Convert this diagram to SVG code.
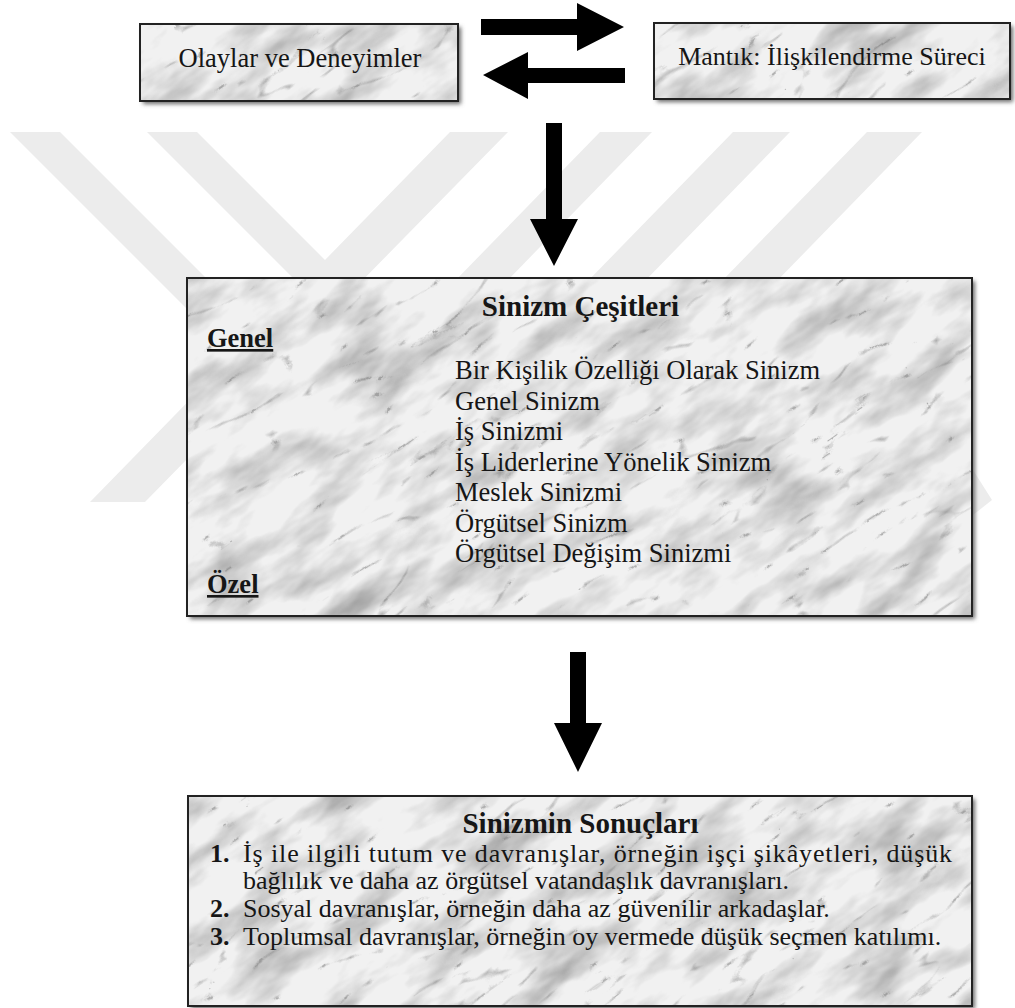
<svg xmlns="http://www.w3.org/2000/svg" width="1015" height="1008" viewBox="0 0 1015 1008">
<defs>
<style>
.t{font-family:"Liberation Serif","Times New Roman",serif;fill:#161616}
.b{font-weight:bold}
.u{text-decoration:underline}
.frame{fill:none;stroke:#222;stroke-width:2}
.shadow{fill:#6a6a6a;filter:url(#shadowF)}
.wm{fill:#ececec}
.arrow{fill:#000}
</style>
<filter id="shadowF" x="-10%" y="-10%" width="120%" height="130%">
<feGaussianBlur stdDeviation="2.2"/>
</filter>
<filter id="marble" x="0" y="0" width="1" height="1" color-interpolation-filters="sRGB">
<feFlood flood-color="#f1f1f1" result="base"/>
<feTurbulence type="fractalNoise" baseFrequency="0.012 0.03" numOctaves="4" seed="7" result="blot"/>
<feColorMatrix in="blot" type="matrix" values="0 0 0 0 0.62 0 0 0 0 0.62 0 0 0 0 0.62 1.9 0 0 0 -0.82" result="blotA"/>
<feTurbulence type="turbulence" baseFrequency="0.009 0.026" numOctaves="3" seed="11" result="vein"/>
<feColorMatrix in="vein" type="matrix" values="0 0 0 0 0.45 0 0 0 0 0.45 0 0 0 0 0.45 -5 0 0 0 0.5" result="veinA"/>
<feMerge><feMergeNode in="base"/><feMergeNode in="blotA"/><feMergeNode in="veinA"/></feMerge>
</filter>
<clipPath id="c1"><rect x="140" y="24" width="318" height="77"/></clipPath>
<clipPath id="c2"><rect x="654" y="23" width="356" height="76"/></clipPath>
<clipPath id="c3"><rect x="187" y="278" width="785" height="338"/></clipPath>
<clipPath id="c4"><rect x="188" y="796" width="784" height="210"/></clipPath>
</defs>
<rect width="1015" height="1008" fill="#ffffff"/>
<g id="watermark">
<polygon class="wm" points="10,132 60,132 275,347 225,347"/>
<polygon class="wm" points="147,132 197,132 325,260 450,132 508,132 145,502 90,502 301,286"/>
<polygon class="wm" points="600,132 652,132 393,398 341,398"/>
<polygon class="wm" points="733,132 790,132 531,398 474,398"/>
<polygon class="wm" points="867,132 922,132 663,398 608,398"/>
<polygon class="wm" points="973,470 992,500 973,515"/>
</g>
<g id="connectors">
<polygon class="arrow" points="481,19 577,19 577,3 624,27 577,51 577,35 481,35"/>
<polygon class="arrow" points="625,68 528,68 528,52 483,75 528,99 528,83 625,83"/>
<polygon class="arrow" points="546,123 562,123 562,219 578,219 554,266 530,219 546,219"/>
<polygon class="arrow" points="570,652 586,652 586,723 602,723 578,772 554,723 570,723"/>
</g>
<g id="node-olaylar">
<rect class="shadow" x="143" y="27" width="318" height="77"/>
<g clip-path="url(#c1)"><rect x="-101" y="-337" width="800" height="800" filter="url(#marble)" transform="rotate(-35 299 62.5)"/></g>
<rect class="frame" x="140" y="24" width="318" height="77"/>
<text class="t" x="300" y="67" font-size="26.5" text-anchor="middle">Olaylar ve Deneyimler</text>
</g>
<g id="node-mantik">
<rect class="shadow" x="657" y="26" width="356" height="76"/>
<g clip-path="url(#c2)"><rect x="432" y="-339" width="800" height="800" filter="url(#marble)" transform="rotate(-35 832 61)"/></g>
<rect class="frame" x="654" y="23" width="356" height="76"/>
<text class="t" x="832" y="65" font-size="26" text-anchor="middle">Mantık: İlişkilendirme Süreci</text>
</g>
<g id="node-cesitler">
<rect class="shadow" x="190" y="281" width="785" height="338"/>
<g clip-path="url(#c3)"><rect x="79.5" y="-53" width="1000" height="1000" filter="url(#marble)" transform="rotate(-35 579.5 447)"/></g>
<rect class="frame" x="187" y="278" width="785" height="338"/>
<text class="t b" x="580.5" y="316" font-size="29" text-anchor="middle">Sinizm Çeşitleri</text>
<text class="t b u" x="207" y="347" font-size="26.5">Genel</text>
<text class="t" font-size="26.5">
<tspan x="455" y="379">Bir Kişilik Özelliği Olarak Sinizm</tspan>
<tspan x="455" y="409.5">Genel Sinizm</tspan>
<tspan x="455" y="440">İş Sinizmi</tspan>
<tspan x="455" y="470.5">İş Liderlerine Yönelik Sinizm</tspan>
<tspan x="455" y="501">Meslek Sinizmi</tspan>
<tspan x="455" y="531.5">Örgütsel Sinizm</tspan>
<tspan x="455" y="562">Örgütsel Değişim Sinizmi</tspan>
</text>
<text class="t b u" x="207" y="593" font-size="26.5">Özel</text>
</g>
<g id="node-sonuclar">
<rect class="shadow" x="191" y="799" width="784" height="210"/>
<g clip-path="url(#c4)"><rect x="130" y="451" width="900" height="900" filter="url(#marble)" transform="rotate(-35 580 901)"/></g>
<rect class="frame" x="188" y="796" width="784" height="210"/>
<text class="t b" x="580.5" y="833" font-size="29" text-anchor="middle">Sinizmin Sonuçları</text>
<text class="t b" x="210" y="862" font-size="26">1.</text>
<text class="t" x="243" y="862" font-size="26" textLength="709" lengthAdjust="spacing">İş ile ilgili tutum ve davranışlar, örneğin işçi şikâyetleri, düşük</text>
<text class="t" x="243" y="889" font-size="26">bağlılık ve daha az örgütsel vatandaşlık davranışları.</text>
<text class="t b" x="210" y="917" font-size="26">2.</text>
<text class="t" x="243" y="917" font-size="26">Sosyal davranışlar, örneğin daha az güvenilir arkadaşlar.</text>
<text class="t b" x="210" y="945" font-size="26">3.</text>
<text class="t" x="243" y="945" font-size="26">Toplumsal davranışlar, örneğin oy vermede düşük seçmen katılımı.</text>
</g>
</svg>
